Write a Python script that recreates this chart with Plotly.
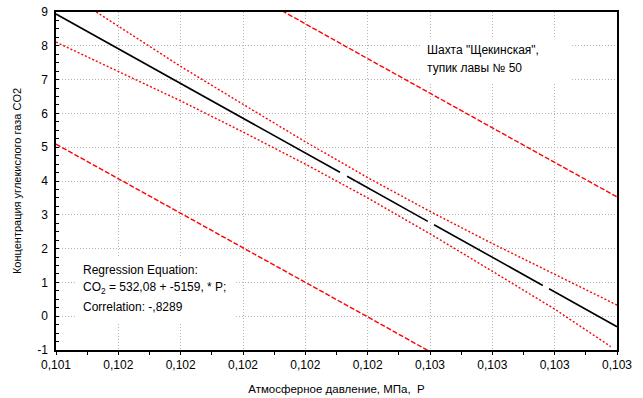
import plotly.graph_objects as go

# ---- data ----
x_ticks = [0.1014, 0.1016, 0.1018, 0.1020, 0.1022, 0.1024, 0.1026, 0.1028, 0.1030, 0.1032]
x_tick_labels = ["0,101", "0,102", "0,102", "0,102", "0,102", "0,102", "0,103", "0,103", "0,103", "0,103"]
y_ticks = [-1, 0, 1, 2, 3, 4, 5, 6, 7, 8, 9]
y_tick_labels = ["-1", "0", "1", "2", "3", "4", "5", "6", "7", "8", "9"]

# regression line (gaps where the original line is broken)
reg_x = [0.1014, 0.102311, None, 0.102334, 0.102593, None, 0.102613, 0.102962, None, 0.102982, 0.1032]
reg_y = [8.94, 4.257, None, 4.142, 2.806, None, 2.707, 0.910, None, 0.811, -0.31]

# 95% confidence band (red dotted)
conf_x = [0.1014, 0.1016, 0.1018, 0.1020, 0.1022, 0.1024, 0.1026, 0.1028, 0.1030, 0.1032]
conf_upper = [9.77, 8.57, 7.39, 6.27, 5.16, 4.10, 3.10, 2.15, 1.23, 0.33]
conf_lower_x = [0.1014, 0.1016, 0.1018, 0.1020, 0.1022, 0.1024, 0.1026, 0.1028, 0.1030, 0.10318]
conf_lower = [8.11, 7.25, 6.37, 5.45, 4.50, 3.50, 2.44, 1.33, 0.21, -0.90]

# prediction band (red dashed)
pred_x = [0.1014, 0.1016, 0.1018, 0.1020, 0.1022, 0.1024, 0.1026, 0.1028, 0.1030, 0.1032]
pred_upper = [12.79, 11.75, 10.71, 9.68, 8.65, 7.62, 6.59, 5.57, 4.55, 3.53]
pred_lower = [5.09, 4.07, 3.05, 2.04, 1.01, -0.02, -1.05, -2.07, -3.11, -4.15]

FONT = "Liberation Sans, Arial, sans-serif"

fig = go.Figure()
fig.add_trace(go.Scatter(x=pred_x, y=pred_upper, mode="lines",
                         line=dict(color="#ff0000", width=1.4, dash="5px,2px")))
fig.add_trace(go.Scatter(x=pred_x, y=pred_lower, mode="lines",
                         line=dict(color="#ff0000", width=1.4, dash="5px,2px")))
fig.add_trace(go.Scatter(x=conf_x, y=conf_upper, mode="lines",
                         line=dict(color="#ff0000", width=1.4, dash="2px,2px")))
fig.add_trace(go.Scatter(x=conf_lower_x, y=conf_lower, mode="lines",
                         line=dict(color="#ff0000", width=1.4, dash="2px,2px")))
fig.add_trace(go.Scatter(x=reg_x, y=reg_y, mode="lines", connectgaps=False,
                         line=dict(color="#000000", width=1.6)))

# white boxes behind the text blocks (cover the grid)
fig.add_shape(type="rect", xref="x", yref="y", x0=0.102568, x1=0.103056, y0=6.90, y1=8.26,
              fillcolor="white", line=dict(width=0), layer="between")
fig.add_shape(type="rect", xref="x", yref="y", x0=0.101464, x1=0.101978, y0=-0.17, y1=1.75,
              fillcolor="white", line=dict(width=0), layer="between")

ann_font = dict(family=FONT, size=12, color="#000000")
texts = [
    (0.102584, 7.876, 'Шахта "Щекинская",'),
    (0.102584, 7.343, "тупик лавы № 50"),
    (0.10148, 1.367, "Regression Equation:"),
    (0.10148, 0.834, "CO<sub>2</sub> = 532,08 + -5159, * P;"),
    (0.10148, 0.272, "Correlation: -,8289"),
]
for tx, ty, t in texts:
    fig.add_annotation(x=tx, y=ty, xref="x", yref="y", text=t, showarrow=False,
                       xanchor="left", yanchor="middle", font=ann_font)

fig.update_layout(
    width=643, height=398,
    margin=dict(l=56, r=26, t=12, b=48),
    paper_bgcolor="white", plot_bgcolor="white",
    showlegend=False,
    font=dict(family=FONT, size=12, color="#000000"),
)
fig.update_xaxes(
    range=[0.1014, 0.1032], tickvals=x_ticks, ticktext=x_tick_labels,
    automargin=False,
    showgrid=True, gridcolor="#b4b4b4", griddash="1px,2px", gridwidth=1,
    showline=True, linecolor="#000000", linewidth=1.5, mirror=True,
    ticks="outside", ticklen=3, tickcolor="#000000",
    minor=dict(dtick=0.0001, tick0=0.1014, ticks="outside", ticklen=3, tickcolor="#000000", showgrid=False),
    zeroline=False,
    tickfont=dict(size=12),
    ticklabelstandoff=0,
    title=dict(text="Атмосферное давление, МПа,  P", font=dict(size=11.5), standoff=14),
)
fig.update_yaxes(
    range=[-1, 9], tickvals=y_ticks, ticktext=y_tick_labels,
    automargin=False,
    showgrid=True, gridcolor="#b4b4b4", griddash="1px,2px", gridwidth=1,
    showline=True, linecolor="#000000", linewidth=1.5, mirror=True,
    ticks="inside", ticklen=3, tickcolor="#000000",
    minor=dict(dtick=0.25, tick0=0, ticks="inside", ticklen=3, tickcolor="#000000", showgrid=False),
    zeroline=False,
    tickfont=dict(size=12),
    ticklabelstandoff=4,
    title=dict(text="Концентрация углекислого газа CO2", font=dict(size=11), standoff=13),
)

fig.write_html("out.html")
